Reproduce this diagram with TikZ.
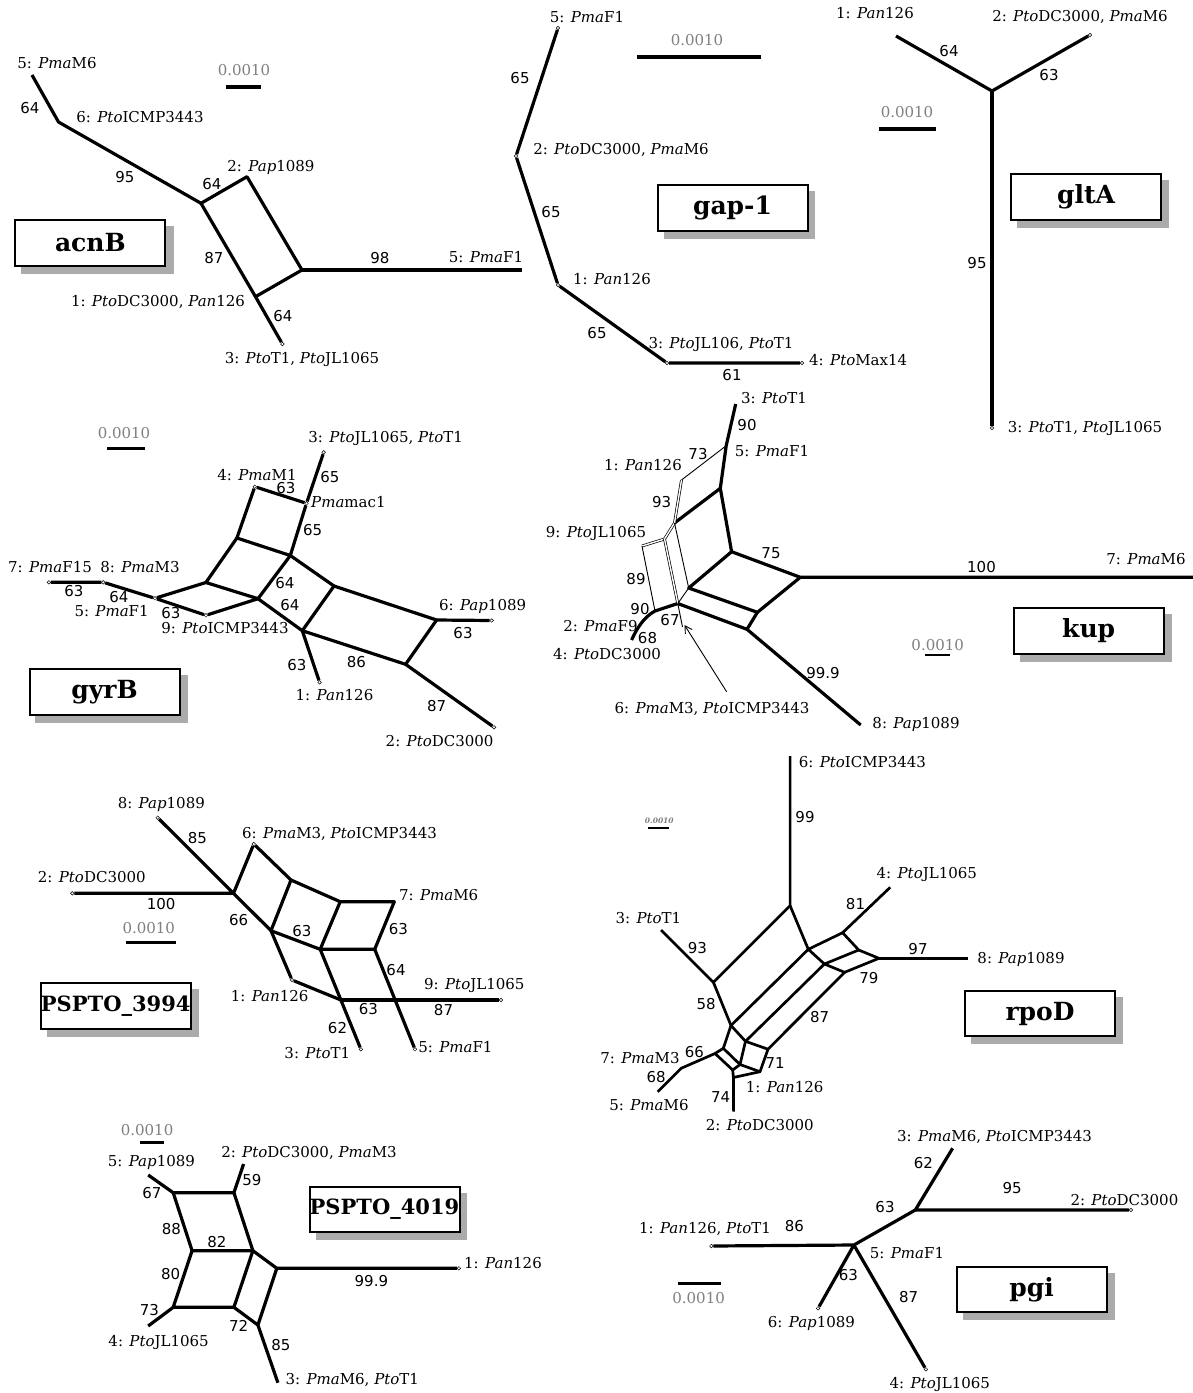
\documentclass[tikz,border=0pt]{standalone}
\usepackage{fontspec}
\setmainfont{DejaVu Serif}
\newfontfamily\numfam{DejaVu Sans}
\usetikzlibrary{arrows.meta}
\begin{document}
\begin{tikzpicture}[x=1pt,y=-1pt,
  br/.style={line width=3.2pt,line join=round},
  brs/.style={line width=2.7pt,line join=round},
  tn/.style={line width=0.9pt},
  dbl/.style={line width=0.7pt,double,double distance=1.4pt},
  lbl/.style={inner sep=0pt,font=\fontsize{15}{17}\selectfont,text height=10.9pt,text depth=0pt},
  bsv/.style={inner sep=0pt,font=\numfam\fontsize{15}{17}\selectfont,text height=10.9pt,text depth=0pt},
  sclb/.style={inner sep=0pt,text=black!50,font=\fontsize{15}{17}\selectfont,text height=10.9pt,text depth=0pt},
  scbar/.style={line width=3.2pt},
  ttlbox/.style={draw,line width=2pt,fill=white,inner sep=0pt,minimum width=150pt,minimum height=45.5pt,font=\bfseries\fontsize{25}{28}\selectfont},
  shadowc/.style={fill=black!33},
  dot/.style={circle,draw,fill=white,line width=0.5pt,inner sep=0pt,minimum size=3.6pt}]
\useasboundingbox (0,0) rectangle (1193,1393);
\fill[white] (0,0) rectangle (1193,1393);

% ================= acnB =================
\coordinate (a5) at (32,75);
\coordinate (aA) at (58.5,122);
\coordinate (aB) at (201,203.3);
\coordinate (aC) at (247,176.7);
\coordinate (aD) at (302,270);
\coordinate (aE) at (255.5,296.7);
\coordinate (aF) at (521.7,270);
\node[dot] (a3) at (282.4,344) {};
\draw[br] (a5)--(aA)--(aB);
\draw[br] (aB)--(aC)--(aD)--(aE)--cycle;
\draw[br] (aD)--(aF);
\draw[br] (aE)--(a3);
\node[lbl] (acl1) at (57,63) {5: \textit{Pma}M6};
\node[bsv] (acb1) at (30,108) {64};
\node[lbl] (acl2) at (140,117) {6: \textit{Pto}ICMP3443};
\node[bsv] (acb2) at (125,177) {95};
\node[bsv] (acb3) at (212,184) {64};
\node[lbl] (acl3) at (271,166) {2: \textit{Pap}1089};
\node[bsv] (acb4) at (214,258) {87};
\node[bsv] (acb5) at (380,258) {98};
\node[lbl] (acl4) at (486,257) {5: \textit{Pma}F1};
\node[lbl] (acl5) at (158,301) {1: \textit{Pto}DC3000, \textit{Pan}126};
\node[bsv] (acb6) at (283,316) {64};
\node[lbl] (acl6) at (302,358) {3: \textit{Pto}T1, \textit{Pto}JL1065};
\node[sclb] (acs) at (244,70) {0.0010};
\draw[scbar] (225.5,87)--(260.7,87);
\fill[shadowc] (20.8,226.3) rectangle (174,273.7);
\node[ttlbox] (tacnB) at (90.4,243) {acnB};

% ================= gap-1 =================
\node[dot] (g5) at (558,28) {};
\node[dot] (g2) at (516,156) {};
\node[dot] (g1) at (558,285) {};
\node[dot] (g3) at (667,363) {};
\node[dot] (g4) at (802,363) {};
\draw[br] (g5)--(g2)--(g1)--(g3)--(g4);
\node[lbl] (gl1) at (587,17) {5: \textit{Pma}F1};
\node[bsv] (gb1) at (520,78) {65};
\node[lbl] (gl2) at (621,149) {2: \textit{Pto}DC3000, \textit{Pma}M6};
\node[bsv] (gb2) at (551,212) {65};
\node[lbl] (gl3) at (612,279) {1: \textit{Pan}126};
\node[bsv] (gb3) at (597,333) {65};
\node[lbl] (gl4) at (721,343) {3: \textit{Pto}JL106, \textit{Pto}T1};
\node[lbl,anchor=west] (gl5) at (809,360) {4: \textit{Pto}Max14};
\node[bsv] (gb4) at (732,375) {61};
\node[sclb] (gs) at (697,40) {0.0010};
\draw[scbar] (637,57)--(761,57);
\fill[shadowc] (664,191) rectangle (815,239);
\node[ttlbox] (tgap) at (732.5,208) {gap-1};

% ================= gltA =================
\coordinate (t1) at (896,36);
\coordinate (tc) at (992,91);
\node[dot] (t2) at (1090,35) {};
\node[dot] (t3) at (992,428) {};
\draw[br] (t1)--(tc)--(t2);
\draw[br] (tc)--(t3);
\node[lbl] (tl1) at (875,13) {1: \textit{Pan}126};
\node[bsv] (tb1) at (949,51) {64};
\node[lbl] (tl2) at (1080,16) {2: \textit{Pto}DC3000, \textit{Pma}M6};
\node[bsv] (tb2) at (1049,75) {63};
\node[bsv] (tb3) at (977,263) {95};
\node[lbl] (tl3) at (1085,427) {3: \textit{Pto}T1, \textit{Pto}JL1065};
\node[sclb] (ts) at (907,112) {0.0010};
\draw[scbar] (879,129)--(936,129);
\fill[shadowc] (1017,180) rectangle (1169,228);
\node[ttlbox] (tglt) at (1086,197) {gltA};

% ================= gyrB =================
\node[dot] (y3) at (323.7,452.3) {};
\node[dot] (ymac) at (306.5,503.3) {};
\node[dot] (yM1) at (254.8,486.7) {};
\coordinate (ya) at (236.9,538);
\coordinate (yb) at (290.3,555.5);
\coordinate (yc) at (205.9,582.5);
\coordinate (yd) at (258,598.7);
\coordinate (ye) at (334,586);
\coordinate (yf) at (302.3,630.7);
\coordinate (yg) at (436.6,620);
\coordinate (yh) at (405.6,664.3);
\node[dot] (y6) at (491.7,620.5) {};
\node[dot] (y2) at (494.1,727.3) {};
\node[dot] (y1) at (319.6,682.3) {};
\node[dot] (yF1) at (155,598.3) {};
\node[dot] (y9) at (206,615.3) {};
\node[dot] (yM3) at (103.3,582.3) {};
\node[dot] (y7) at (48.9,582.3) {};
\draw[br] (y3)--(ymac)--(yb)--(ya)--(yM1)--(ymac);
\draw[br] (ya)--(yc)--(yd)--(yb);
\draw[br] (yc)--(yF1)--(y9)--(yd);
\draw[br] (yF1)--(yM3)--(y7);
\draw[br] (yb)--(ye)--(yf)--(yd);
\draw[br] (ye)--(yg)--(yh)--(yf);
\draw[br] (yg)--(y6);
\draw[br] (yh)--(y2);
\draw[br] (yf)--(y1);
\node[lbl] (yl1) at (385.7,437) {3: \textit{Pto}JL1065, \textit{Pto}T1};
\node[bsv] (yb1) at (330,477) {65};
\node[lbl] (yl2) at (257,475) {4: \textit{Pma}M1};
\node[bsv] (yb2) at (285.8,488.3) {63};
\node[lbl,anchor=west] (yl3) at (311,501.7) {\textit{Pma}mac1};
\node[bsv] (yb3) at (312.7,530) {65};
\node[lbl] (yl4) at (50,567) {7: \textit{Pma}F15};
\node[lbl] (yl5) at (140,567) {8: \textit{Pma}M3};
\node[bsv] (yb4) at (74,591) {63};
\node[bsv] (yb5) at (119,597) {64};
\node[lbl] (yl6) at (111.6,611) {5: \textit{Pma}F1};
\node[bsv] (yb6) at (171,613) {63};
\node[lbl] (yl7) at (225,628.3) {9: \textit{Pto}ICMP3443};
\node[bsv] (yb7) at (285,583) {64};
\node[bsv] (yb8) at (290,605) {64};
\node[lbl] (yl8) at (482.6,605) {6: \textit{Pap}1089};
\node[bsv] (yb9) at (463,633) {63};
\node[bsv] (yb10) at (297,665) {63};
\node[bsv] (yb11) at (356.4,662) {86};
\node[lbl] (yl9) at (334.5,695) {1: \textit{Pan}126};
\node[bsv] (yb12) at (436.6,706) {87};
\node[lbl] (yl10) at (439.6,741) {2: \textit{Pto}DC3000};
\node[sclb] (ys) at (124,433) {0.0010};
\draw[scbar] (107.4,448.3)--(144.6,448.3);
\fill[shadowc] (35.2,675.3) rectangle (187.8,722.7);
\node[ttlbox] (tgyr) at (104.5,692) {gyrB};

% ================= kup =================
\coordinate (k3) at (735.7,404);
\coordinate (kF1) at (726.2,445.7);
\coordinate (kP) at (681.5,480);
\coordinate (kq) at (720.3,488.3);
\coordinate (kr) at (731.6,551.7);
\coordinate (ks) at (800.3,577.3);
\coordinate (k7) at (1193,577.3);
\coordinate (kt) at (688.7,588);
\coordinate (ku) at (757.4,612.3);
\coordinate (kv) at (747,629.3);
\coordinate (kw) at (677.8,603.5);
\coordinate (k8) at (860.7,725);
\coordinate (kx) at (674.5,523);
\coordinate (k9) at (664.5,539);
\coordinate (k9b) at (642,546);
\coordinate (ky) at (655,611);
\coordinate (k4) at (631.6,640);
\coordinate (kar) at (684.5,625);
\coordinate (kat) at (682.5,627);
\coordinate (kas) at (726.6,691.7);
\draw[br] (k3)--(kF1)--(kq)--(kr)--(ks)--(k7);
\draw[br] (ks)--(ku)--(kv)--(k8);
\draw[br] (kr)--(kt)--(ku);
\draw[br] (kq)--(kx);
\draw[br] (kw)--(kv);
\draw[br] (kw)--(ky) .. controls (644,617) and (637,628) .. (k4);
\draw[tn] (kF1)--(kP);
\draw[dbl] (kP)--(kx)--(k9)--(k9b);
\draw[dbl] (k9)--(kw);
\draw[tn] (k9b)--(ky);
\draw[tn] (kx)--(kt)--(kw)--(kat);
\draw[tn,-{Straight Barb[length=7pt,width=8pt]}] (kas)--(kar);
\node[lbl] (kl1) at (774,398) {3: \textit{Pto}T1};
\node[bsv] (kb1) at (747,425) {90};
\node[lbl] (kl2) at (772,451) {5: \textit{Pma}F1};
\node[bsv] (kb2) at (698,454) {73};
\node[lbl] (kl3) at (643,465) {1: \textit{Pan}126};
\node[bsv] (kb3) at (661.6,501.7) {93};
\node[lbl] (kl4) at (596,531.7) {9: \textit{Pto}JL1065};
\node[bsv] (kb4) at (771,552.7) {75};
\node[bsv] (kb5) at (981.5,566.7) {100};
\node[lbl] (kl5) at (1146,559.3) {7: \textit{Pma}M6};
\node[bsv] (kb6) at (636,579) {89};
\node[bsv] (kb7) at (640,609) {90};
\node[lbl] (kl6) at (600.5,626) {2: \textit{Pma}F9};
\node[bsv] (kb8) at (670,620) {67};
\node[bsv] (kb9) at (647.5,638.3) {68};
\node[lbl] (kl7) at (607,654) {4: \textit{Pto}DC3000};
\node[lbl] (kl8) at (712,708.3) {6: \textit{Pma}M3, \textit{Pto}ICMP3443};
\node[bsv] (kb10) at (823,672.7) {99.9};
\node[lbl] (kl9) at (916,723.3) {8: \textit{Pap}1089};
\node[sclb] (ks0) at (937.7,645) {0.0010};
\draw[scbar,line width=2pt] (925.3,655)--(950.2,655);
\fill[shadowc] (1019.7,613.7) rectangle (1171.8,662);
\node[ttlbox] (tkup) at (1088.7,630.8) {kup};

% ================= PSPTO_3994 =================
\node[dot] (p8) at (157.7,817.7) {};
\node[dot] (p6) at (253.8,844) {};
\coordinate (ph0) at (233.5,893.3);
\node[dot] (p2) at (72.3,893.3) {};
\coordinate (pa) at (291,880);
\coordinate (pb) at (340.2,901.7);
\coordinate (pc) at (394.3,901.7);
\coordinate (pd) at (271,930.7);
\coordinate (pe) at (320.2,949.3);
\coordinate (pf) at (374.7,949.3);
\node[dot] (pg) at (292,980) {};
\coordinate (ph) at (340.9,1000);
\node[dot] (p9) at (501,1000) {};
\node[dot] (p3) at (360.9,1049.3) {};
\node[dot] (p5) at (415,1049.3) {};
\draw[br] (p8)--(ph0)--(p2);
\draw[br] (ph0)--(p6)--(pa)--(pd)--(ph0);
\draw[br] (pa)--(pb)--(pe)--(pd);
\draw[br] (pb)--(pc)--(pf)--(pe);
\draw[br] (pf)--(p5);
\draw[br] (pd)--(pg)--(ph);
\draw[br] (pe)--(ph)--(p3);
\draw[br] (ph)--(p9);
\node[lbl] (pl1) at (161.3,802.7) {8: \textit{Pap}1089};
\node[bsv] (pb1) at (197.3,838.3) {85};
\node[lbl] (pl2) at (339.5,833.3) {6: \textit{Pma}M3, \textit{Pto}ICMP3443};
\node[lbl] (pl3) at (91.8,877.3) {2: \textit{Pto}DC3000};
\node[bsv] (pb2) at (161.2,904.3) {100};
\node[sclb] (ps) at (148.8,928.3) {0.0010};
\draw[scbar] (125.7,942.3)--(175.6,942.3);
\node[lbl] (pl4) at (438.7,895) {7: \textit{Pma}M6};
\node[bsv] (pb3) at (238.6,920) {66};
\node[bsv] (pb4) at (302,931) {63};
\node[bsv] (pb5) at (398.4,929.3) {63};
\node[bsv] (pb6) at (396,970) {64};
\node[lbl] (pl5) at (269.6,996) {1: \textit{Pan}126};
\node[lbl] (pl6) at (474.3,984) {9: \textit{Pto}JL1065};
\node[bsv] (pb7) at (368.5,1009.3) {63};
\node[bsv] (pb8) at (443.5,1010) {87};
\node[bsv] (pb9) at (337.5,1028.3) {62};
\node[lbl] (pl7) at (317.3,1052.7) {3: \textit{Pto}T1};
\node[lbl] (pl8) at (455.4,1047.3) {5: \textit{Pma}F1};
\fill[shadowc] (46.6,989.3) rectangle (198.8,1037);
\node[ttlbox,font=\bfseries\fontsize{21}{24}\selectfont] (tp39) at (115.7,1006) {PSPTO\_3994};

% ================= rpoD =================
\coordinate (r6) at (790.1,756);
\coordinate (rt) at (790.1,905.7);
\coordinate (r4) at (890.2,887.3);
\coordinate (ra) at (842.6,932.7);
\coordinate (rb) at (858.7,950);
\coordinate (rc) at (878.9,958.3);
\coordinate (r8) at (967.8,958.3);
\coordinate (rd) at (844.6,972.3);
\coordinate (re) at (808.3,949.3);
\coordinate (rf) at (824.4,964);
\coordinate (r3) at (661,930);
\coordinate (rg) at (713.4,982.3);
\coordinate (rh) at (731,1025.5);
\coordinate (ri) at (745.5,1041.3);
\coordinate (rj) at (768,1049.2);
\coordinate (rk) at (723.3,1048.3);
\coordinate (rl) at (715,1053.5);
\coordinate (rm) at (681.1,1068.3);
\coordinate (r5) at (657.7,1091.7);
\coordinate (rq) at (732.7,1070);
\coordinate (rs) at (740,1064.5);
\coordinate (ru) at (760,1071.7);
\coordinate (rn) at (733.4,1077.5);
\coordinate (r2) at (733.6,1111.7);
\draw[brs] (r6)--(rt)--(rg)--(r3);
\draw[brs] (rt)--(re)--(rf)--(rd)--(rc)--(rb)--(ra)--(re);
\draw[brs] (rf)--(rb);
\draw[brs] (ra)--(r4);
\draw[brs] (rc)--(r8);
\draw[brs] (rg)--(rh)--(ri)--(rj);
\draw[brs] (re)--(rh);
\draw[brs] (rf)--(ri);
\draw[brs] (rd)--(rj);
\draw[brs] (rh)--(rk)--(rl)--(rm)--(r5);
\draw[brs] (rl)--(rq)--(rn)--(r2);
\draw[brs] (rk)--(rs)--(ri);
\draw[brs] (rs)--(rq);
\draw[brs] (rj)--(ru)--(rs);
\draw[brs] (ru)--(rn);
\node[lbl] (rl1) at (862.4,761.7) {6: \textit{Pto}ICMP3443};
\node[bsv] (rb1) at (805,816.7) {99};
\node[inner sep=0pt,text=black!50,font=\bfseries\itshape\fontsize{7.5}{8}\selectfont] (rsc) at (659.3,820.7) {0.0010};
\draw[line width=1.8pt] (648,828.3)--(669,828.3);
\node[lbl] (rl2) at (926.8,873.3) {4: \textit{Pto}JL1065};
\node[bsv] (rb2) at (855.5,904) {81};
\node[bsv] (rb3) at (918,949.3) {97};
\node[lbl] (rl3) at (1021,958.3) {8: \textit{Pap}1089};
\node[bsv] (rb4) at (868.8,977.7) {79};
\node[lbl] (rl4) at (648.4,917.7) {3: \textit{Pto}T1};
\node[bsv] (rb5) at (697.3,947.7) {93};
\node[bsv] (rb6) at (706.1,1004) {58};
\node[bsv] (rb7) at (819.6,1016.7) {87};
\node[bsv] (rb8) at (694.4,1051.7) {66};
\node[lbl] (rl5) at (640,1058.3) {7: \textit{Pma}M3};
\node[bsv] (rb9) at (656.1,1076.7) {68};
\node[lbl] (rl6) at (649,1105) {5: \textit{Pma}M6};
\node[bsv] (rb10) at (720.7,1097.3) {74};
\node[lbl] (rl7) at (759.8,1125) {2: \textit{Pto}DC3000};
\node[bsv] (rb11) at (775.2,1063.3) {71};
\node[lbl] (rl8) at (784.7,1086.7) {1: \textit{Pan}126};
\fill[shadowc] (970.7,997) rectangle (1123.3,1044.3);
\node[ttlbox] (trpo) at (1040,1013.7) {rpoD};

% ================= PSPTO_4019 =================
\coordinate (q5) at (148.2,1175);
\coordinate (qa) at (173.2,1192.7);
\coordinate (qb) at (233.9,1192.7);
\coordinate (q2) at (243.6,1164);
\coordinate (qc) at (192.1,1250.7);
\coordinate (qd) at (252.9,1250.7);
\coordinate (qe) at (276.8,1268.3);
\node[dot] (q1) at (458.9,1268.3) {};
\coordinate (qf) at (173.2,1307.3);
\coordinate (qg) at (233.9,1307.3);
\coordinate (qh) at (257.9,1325);
\coordinate (q4) at (148.2,1326);
\coordinate (q3) at (277.9,1382.7);
\draw[br] (q5)--(qa)--(qb)--(q2);
\draw[br] (qa)--(qc)--(qd)--(qb);
\draw[br] (qc)--(qf)--(qg)--(qd);
\draw[br] (qf)--(q4);
\draw[br] (qd)--(qe)--(q1);
\draw[br] (qg)--(qh)--(qe);
\draw[br] (qh)--(q3);
\node[sclb] (qs) at (147.1,1130) {0.0010};
\draw[scbar] (140,1142.7)--(163.6,1142.7);
\node[lbl] (ql1) at (151.4,1161) {5: \textit{Pap}1089};
\node[bsv] (qb1) at (151.8,1193.3) {67};
\node[bsv] (qb2) at (251.8,1180) {59};
\node[lbl] (ql2) at (309,1151.7) {2: \textit{Pto}DC3000, \textit{Pma}M3};
\node[bsv] (qb3) at (171.4,1229.3) {88};
\node[bsv] (qb4) at (216.8,1242.3) {82};
\node[lbl] (ql3) at (503,1263.3) {1: \textit{Pan}126};
\node[bsv] (qb5) at (371.4,1280.7) {99.9};
\node[bsv] (qb6) at (170.7,1274) {80};
\node[bsv] (qb7) at (149.3,1310) {73};
\node[lbl] (ql4) at (158.6,1340.7) {4: \textit{Pto}JL1065};
\node[bsv] (qb8) at (238.6,1326) {72};
\node[bsv] (qb9) at (281,1345) {85};
\node[lbl] (ql5) at (352.3,1379.3) {3: \textit{Pma}M6, \textit{Pto}T1};
\fill[shadowc] (315.9,1192.7) rectangle (467,1240.3);
\node[ttlbox,font=\bfseries\fontsize{21}{24}\selectfont] (tp40) at (384.5,1209.5) {PSPTO\_4019};

% ================= pgi =================
\coordinate (s3) at (952.6,1148.3);
\coordinate (sa) at (915.3,1210);
\node[dot] (s2) at (1131,1210) {};
\coordinate (sb) at (853.9,1245);
\node[dot] (s1) at (711.4,1246) {};
\node[dot] (s6) at (818.1,1308.3) {};
\node[dot] (s4) at (925.9,1369.3) {};
\draw[br] (s3)--(sa)--(s2);
\draw[br] (sa)--(sb)--(s1);
\draw[br] (sb)--(s6);
\draw[br] (sb)--(s4);
\node[lbl] (sl1) at (994.6,1136) {3: \textit{Pma}M6, \textit{Pto}ICMP3443};
\node[bsv] (sb1) at (923.4,1162.7) {62};
\node[bsv] (sb2) at (1012.2,1188.3) {95};
\node[lbl] (sl2) at (1124.4,1200) {2: \textit{Pto}DC3000};
\node[bsv] (sb3) at (885,1207.3) {63};
\node[lbl] (sl3) at (705,1228.3) {1: \textit{Pan}126, \textit{Pto}T1};
\node[bsv] (sb4) at (794.3,1226) {86};
\node[lbl] (sl4) at (907,1253.3) {5: \textit{Pma}F1};
\node[bsv] (sb5) at (848.4,1275) {63};
\node[lbl] (sl5) at (811.4,1321.7) {6: \textit{Pap}1089};
\node[bsv] (sb6) at (908.7,1296.7) {87};
\node[lbl] (sl6) at (939.8,1383.3) {4: \textit{Pto}JL1065};
\draw[scbar] (677.7,1283.3)--(720.5,1283.3);
\node[sclb] (ss) at (698.6,1298.3) {0.0010};
\fill[shadowc] (962.5,1273) rectangle (1115,1320.3);
\node[ttlbox] (tpgi) at (1031.7,1289.7) {pgi};
\end{tikzpicture}
\end{document}
